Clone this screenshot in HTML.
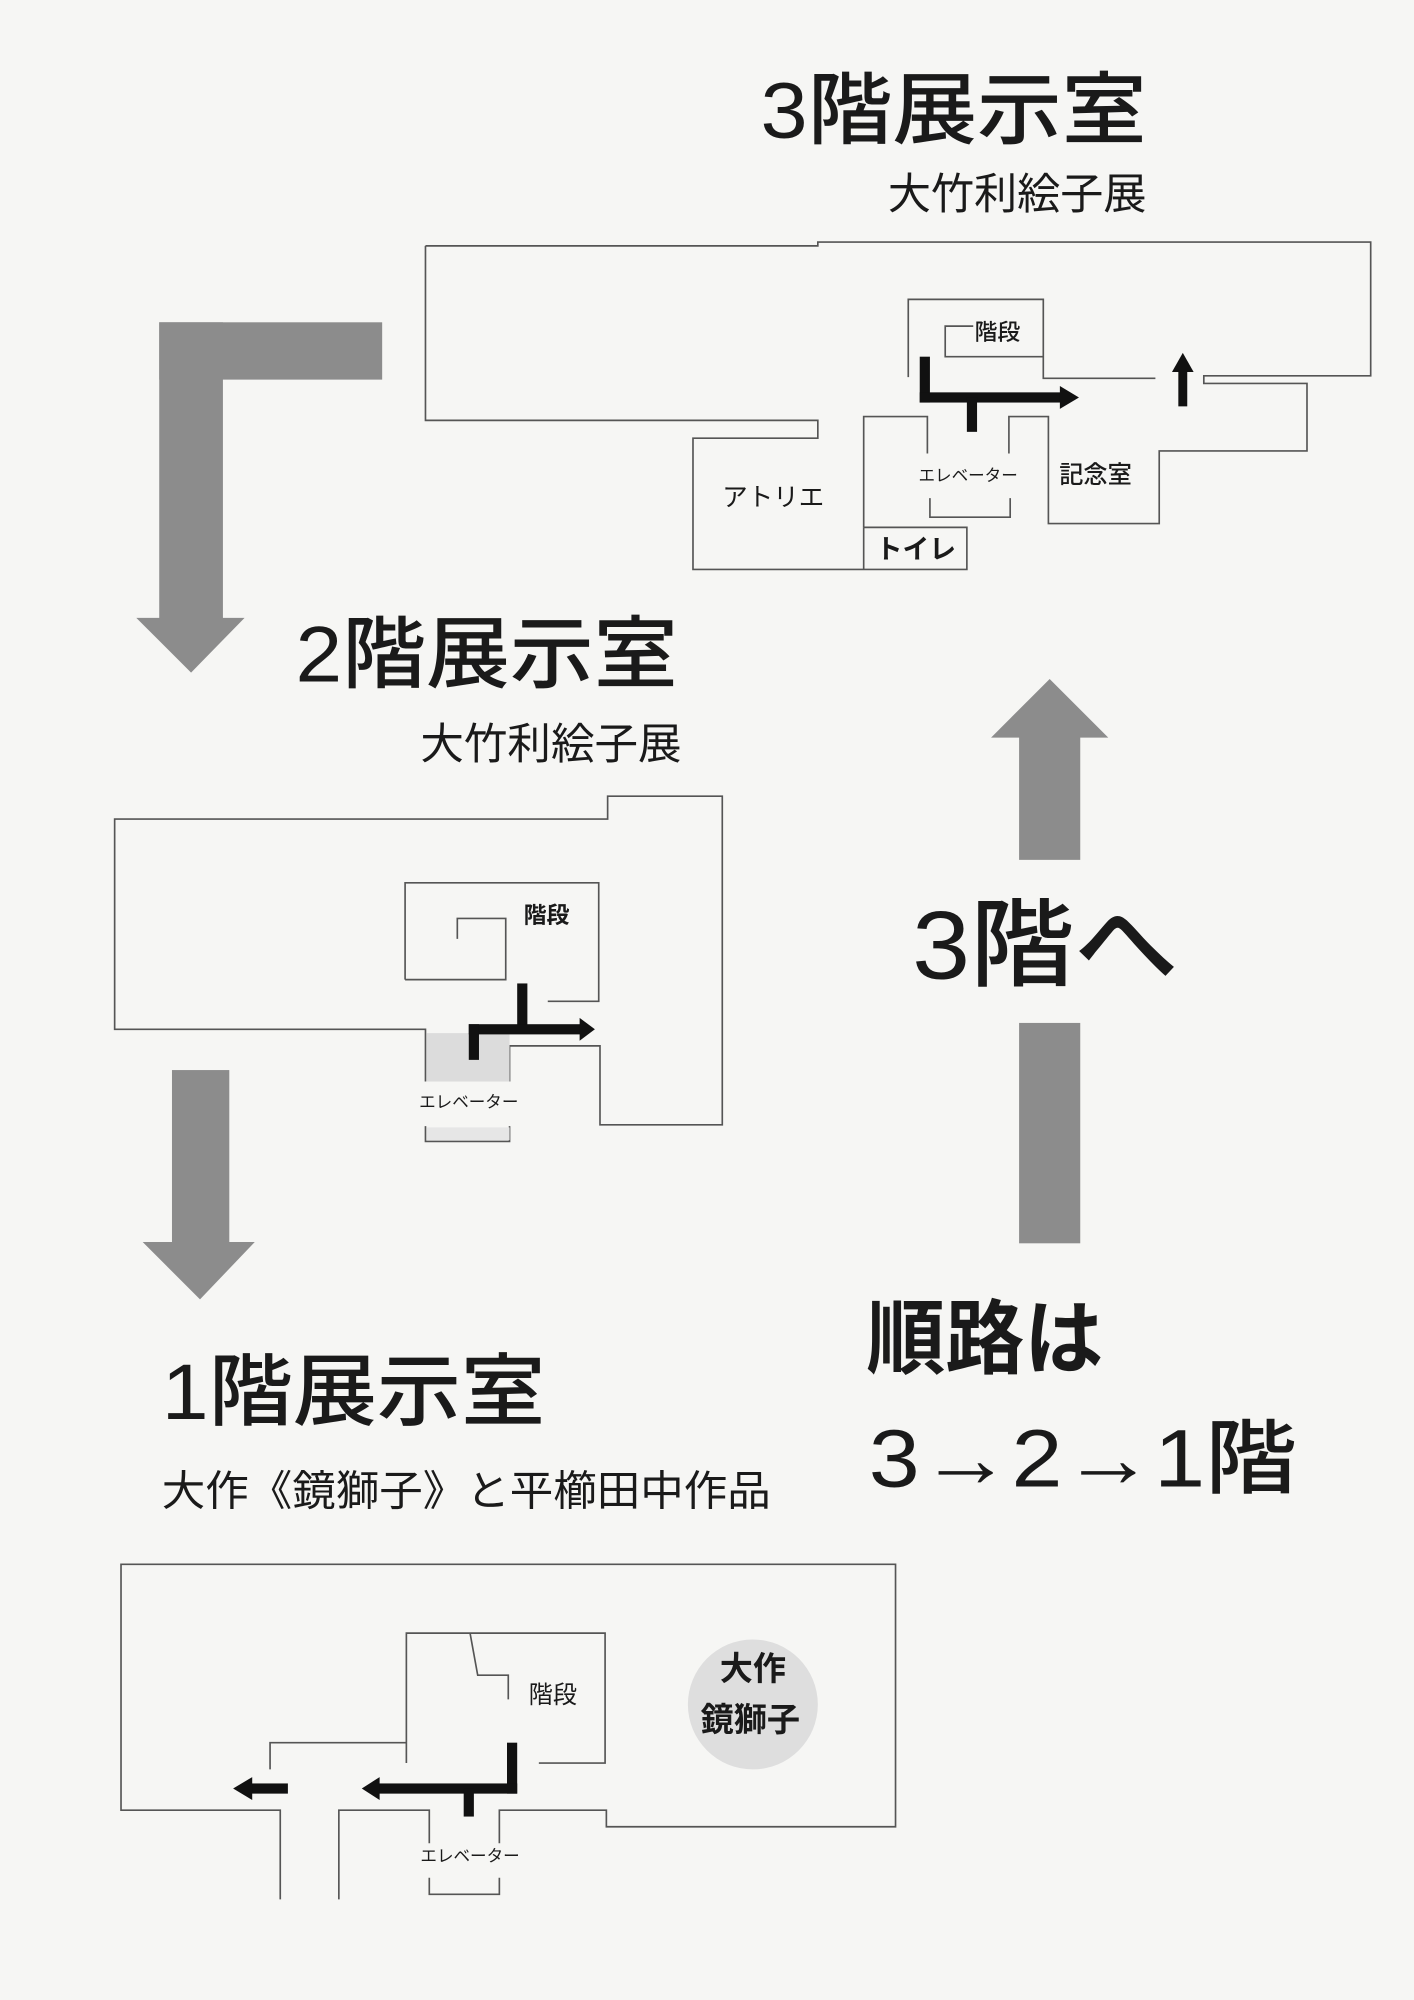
<!DOCTYPE html>
<html><head><meta charset="utf-8"><style>
html,body{margin:0;padding:0;background:#f6f6f4;}
svg{display:block}
text{font-family:"Liberation Sans","Noto Sans CJK JP",sans-serif;fill:#1a1a1a}
</style></head><body>
<svg width="1414" height="2000" viewBox="0 0 1110 1570" preserveAspectRatio="none" xmlns="http://www.w3.org/2000/svg">
<rect width="1110" height="1570" fill="#f6f6f4"/>
<text x="597" y="108" font-size="62" font-weight="500" textLength="303" lengthAdjust="spacingAndGlyphs">3階展示室</text>
<text x="697" y="164" font-size="34" textLength="203" lengthAdjust="spacingAndGlyphs">大竹利絵子展</text>
<g fill="none" stroke="#555" stroke-width="1.3">
<polyline points="334,193 642,193 642,190 1076,190 1076,295 945,295 945,301 1026,301 1026,354 910,354 910,411 823,411 823,327 792,327 792,356"/>
<polyline points="334,193 334,330 642,330 642,344 544,344 544,447 759,447 759,414 678,414"/>
<line x1="678" y1="414" x2="678" y2="447"/>
<polyline points="678,414 678,327 728,327 728,356"/>
<polyline points="730,391 730,406 793,406 793,391"/>
<polyline points="713,296 713,235 819,235 819,297 907,297"/>
<polyline points="764,256 742,256 742,280 819,280"/>
<polyline points="334,849 334,808 90,808 90,643 477,643 477,625 567,625 567,883 471,883 471,821 400,821 400,849"/>
<polyline points="334,884 334,896 400,896 400,884"/>
<polyline points="318,769 318,693 470,693 470,786 430,786"/>
<polyline points="318,769 397,769 397,721 359,721 359,737"/>
<polyline points="220,1491 220,1421 95,1421 95,1228 703,1228 703,1434 476,1434 476,1421 392,1421 392,1447"/>
<polyline points="266,1491 266,1421 337,1421 337,1447"/>
<polyline points="337,1474 337,1487 392,1487 392,1474"/>
<polyline points="212,1389 212,1368 319,1368"/>
<polyline points="319,1384 319,1282 475,1282 475,1384 423,1384"/>
<polyline points="369,1282 375,1315 399,1315 399,1334"/>
</g>
<rect x="335" y="811" width="65" height="38" fill="#dcdcdc"/>
<rect x="335" y="885" width="65" height="10" fill="#e6e6e6"/>
<g fill="#111">
<rect x="722" y="280" width="8" height="36"/>
<rect x="722" y="308" width="112" height="8"/>
<polygon points="832,303 847,312 832,321"/>
<rect x="759" y="312" width="8" height="27"/>
<rect x="925" y="290" width="7" height="29"/>
<polygon points="920,292 928.5,277 937,292"/>
<rect x="406" y="772" width="8" height="36"/>
<rect x="368" y="804" width="88" height="8"/>
<polygon points="455,799 467,808 455,817"/>
<rect x="368" y="804" width="8" height="28"/>
<rect x="398" y="1368" width="8" height="40"/>
<rect x="296" y="1400" width="110" height="8"/>
<polygon points="298,1395 284,1404 298,1413"/>
<rect x="364" y="1404" width="8" height="22"/>
<rect x="196" y="1400" width="30" height="8"/>
<polygon points="198,1395 183,1404 198,1413"/>
</g>
<text x="783" y="262" font-size="18" font-weight="500" text-anchor="middle" dominant-baseline="middle">階段</text>
<text x="607" y="392" font-size="20" text-anchor="middle" dominant-baseline="middle">アトリエ</text>
<text x="760" y="374" font-size="13" text-anchor="middle" dominant-baseline="middle">エレベーター</text>
<text x="860" y="374" font-size="19" font-weight="500" text-anchor="middle" dominant-baseline="middle">記念室</text>
<text x="719" y="433" font-size="21" font-weight="700" text-anchor="middle" dominant-baseline="middle">トイレ</text>
<text x="429" y="720" font-size="18" font-weight="700" text-anchor="middle" dominant-baseline="middle">階段</text>
<text x="368" y="866" font-size="13" text-anchor="middle" dominant-baseline="middle">エレベーター</text>
<text x="434" y="1332" font-size="19" text-anchor="middle" dominant-baseline="middle">階段</text>
<text x="369" y="1458" font-size="13" text-anchor="middle" dominant-baseline="middle">エレベーター</text>
<circle cx="591" cy="1338" r="51" fill="#dedede"/>
<text x="591" y="1312" font-size="26" font-weight="700" text-anchor="middle" dominant-baseline="middle">大作</text>
<text x="589" y="1352" font-size="26" font-weight="700" text-anchor="middle" dominant-baseline="middle">鏡獅子</text>
<g fill="#8c8c8c">
<rect x="125" y="253" width="50" height="233"/>
<rect x="125" y="253" width="175" height="45"/>
<polygon points="107,485 192,485 150,528"/>
<rect x="135" y="840" width="45" height="136"/>
<polygon points="112,975 200,975 157,1020"/>
<polygon points="778,579 870,579 824,533"/>
<rect x="800" y="578" width="48" height="97"/>
<rect x="800" y="803" width="48" height="173"/>
</g>
<text x="232" y="535" font-size="62" font-weight="500" textLength="300" lengthAdjust="spacingAndGlyphs">2階展示室</text>
<text x="330" y="596" font-size="34" textLength="205" lengthAdjust="spacingAndGlyphs">大竹利絵子展</text>
<text x="716" y="768" font-size="76" font-weight="500" textLength="209" lengthAdjust="spacingAndGlyphs">3階へ</text>
<text x="680" y="1073" font-size="64" font-weight="700" textLength="186" lengthAdjust="spacingAndGlyphs">順路は</text>
<text x="682" y="1167" font-size="64" font-weight="500" textLength="336" lengthAdjust="spacingAndGlyphs">3→2→1階</text>
<text x="127" y="1114" font-size="62" font-weight="500" textLength="301" lengthAdjust="spacingAndGlyphs">1階展示室</text>
<text x="127" y="1182" font-size="33" textLength="478" lengthAdjust="spacingAndGlyphs">大作《鏡獅子》と平櫛田中作品</text>
</svg>
</body></html>
